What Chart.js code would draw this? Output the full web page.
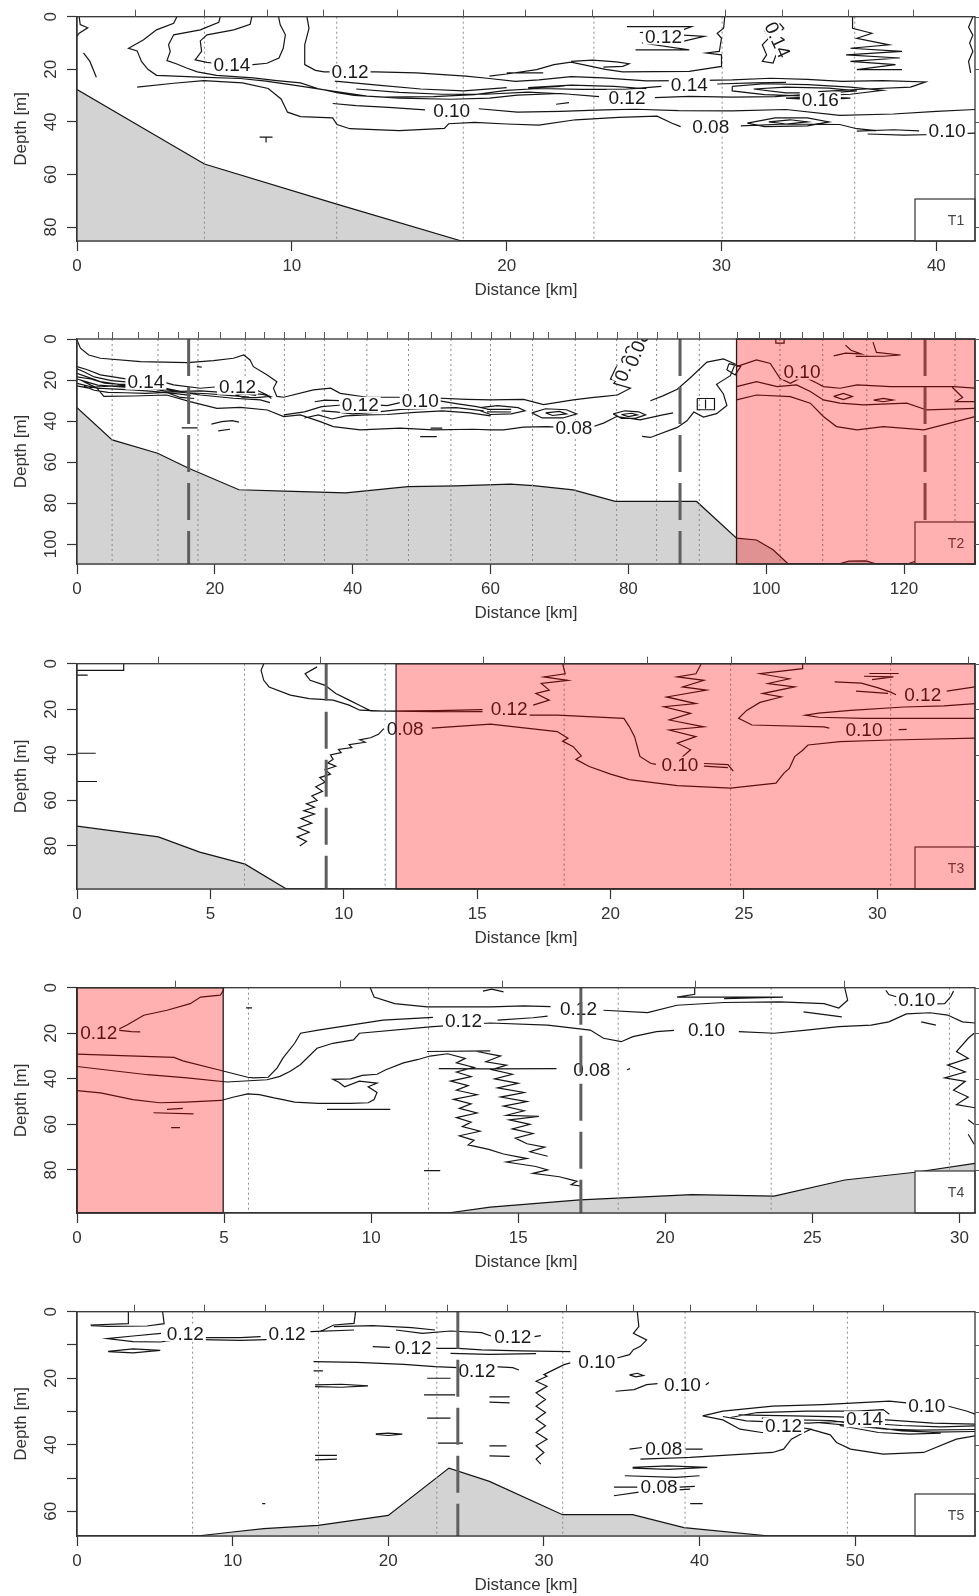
<!DOCTYPE html>
<html><head><meta charset="utf-8">
<script src="https://cdn.jsdelivr.net/npm/chart.js@4.4.1/dist/chart.umd.min.js"></script>
<style>
html,body{margin:0;padding:0;background:#fff;}
body{width:979px;height:1596px;position:relative;overflow:hidden;}
canvas{position:absolute;left:0;}
</style></head><body>
<canvas id="c1" width="979" height="301" style="top:0px"></canvas>
<canvas id="c2" width="979" height="300" style="top:324px"></canvas>
<canvas id="c3" width="979" height="302" style="top:647px"></canvas>
<canvas id="c4" width="979" height="302" style="top:971px"></canvas>
<canvas id="c5" width="979" height="301" style="top:1295px"></canvas>
<script>
// ---------------- T1 ----------------
const t1Range = [41.8, 85.3];
const t1XTicks = [0,10,20,30,40];
const t1YTicks = [0,20,40,60,80];
const t1YLabeled = [0,20,40,60,80];
const t1Stations = [5.93,12.09,17.98,24.06,30.03,36.2];
const t1TopTicks = [2.71,5.93,8.84,11.47,14.88,17.98,20.85,23.95,26.8,30.15,32.8,35.9,38.9];
const t1Dashed = [];
const t1Pink = null;
const t1Bathy = [[0,27.7],[5.93,56],[12.09,71.3],[17.9,85.3],[41.8,85.3]];
const t1Contours = [
 [[0.1,0],[0.15,3],[0.5,4.2],[0.1,6.3],[0,7.5]],
 [[0.3,13.8],[0.6,17],[0.9,23]],
 [[4.65,0],[4.5,2.5],[3.7,5],[3.1,8.8],[2.4,12],[2.8,13],[3,17],[3.3,20],[3.7,22.3],[5.7,23],[7.6,23.5],[8.8,24.5],[10.4,26.4],[11.9,28.3],[13.5,30.2],[15,31],[17.4,31.4],[19.2,31],[20.5,29.8],[22.5,29.2],[24.3,30.4]],
 [[26.9,30.8],[28.5,30.3],[30.5,30.6],[32.5,30.4],[34,29.5]],
 [[6.67,0],[6.6,2.1],[5.74,5],[4.5,6.9],[4.26,10.7],[4.34,13.2],[4.19,16.7],[4.65,18],[5.1,19.5],[5.6,21],[6.5,22.3],[8.2,23.3],[9.3,24.3],[10.4,25.2],[11.2,27.3],[12.1,28.9],[12.9,29.9],[14.3,30.6],[16.6,30.4],[18.5,29.6],[20,28],[21.5,27.3],[23.5,27.6],[25.5,27.6],[27.2,26.5]],
 [[29.8,25.6],[31.5,25.2],[33,25]],
 [[12,24.5],[14,26],[16,27.5],[18,28.2],[20,27]],
 [[13,27.5],[15,28.8],[17,29.5],[19,29.5],[21,28.7],[23,29.5]],
 [[21,27],[23,26],[25,26.5],[26.5,27.4]],
 [[8.14,0],[8.06,2.9],[7.3,5],[6.05,6.9],[5.74,9.2],[5.8,13.2],[5.5,16.4],[6.05,17.4],[6.3,17.6],[8.2,18.2],[8.84,17.7],[9.4,15.7],[9.6,12],[9.7,6.9],[9.46,3.1],[9.38,0]],
 [[10.7,0],[10.8,4.4],[10.6,10.7],[10.6,18.2],[11.1,20.4],[11.5,21],[13.9,21],[15.8,21.4],[18.1,22.6],[19.2,23.5],[20.4,24.6],[21.5,24],[23,22.8],[24.5,23.3],[26.5,24.4],[28.5,24.3],[30.5,24],[32.3,23.4],[34,23.8],[35.6,24.6],[37.5,24.3],[39.5,24.8],[38.8,26.8],[36.5,27.6],[34.5,28.5]],
 [[30.15,0],[30.1,4.4],[29.8,6.3],[30,8.2],[29.9,13.2],[29.3,13.8],[30,14.5],[30,18.9],[28.5,20.8],[25.4,21],[24.6,20],[23,17.3],[22.2,18.2],[21.4,20.1],[20,21.8],[19.2,22.6]],
 [[23,17],[24,16.5],[25.1,17.2],[25.7,17.9],[25.4,18.9],[24.5,19.2]],
 [[20,21.4],[21.7,21.4]],[[21,27.2],[22.7,26.4]],[[22.3,33.3],[22.9,32.7]],
 [[2.8,26.8],[4.5,25.3],[5.9,24.3],[7.7,25.2],[8.9,27.3],[9.5,31.3],[9.8,36.3],[10.4,38],[11.9,38.5],[12.1,41],[12.7,42.6],[15,43.3],[17.1,42.5],[17.3,40.7],[18.5,40.2],[20,40.8],[21.5,41.2],[23.2,39.2],[25.2,38.3],[27,37.8],[27.7,40.5],[28.1,41.8]],
 [[30.9,41.5],[33,40.8],[35.5,41],[36.3,42.6],[37.2,43.3]],
 [[11.9,33],[13,33.8],[14.5,34.5],[16.2,35.4]],
 [[18.7,35],[20.5,36.3],[22.5,36],[24.5,35.4],[26,35.2],[28,35.7],[30.5,35.8],[33,35.3],[35.5,37.5],[38,37],[40,36],[41.8,35.3]],
 [[36.3,43.5],[38,43],[39.2,43.4]],
 [[36.8,44.6],[38.5,45],[40,44.8],[41.8,44.3]],
 [[25.6,3.8],[28.6,3.8],[28.2,5],[26.2,6],[29.2,7.5],[28.3,9.2],[26.3,10],[28.5,12.6],[26,12.6]],
 [[32.3,3.1],[32,5],[32.2,8.2],[31.9,10.7],[32.1,14.5],[31.9,17],[32.4,17.6],[32.6,13.2],[32.4,8.2],[32.9,4.4],[32.7,2.5]],
 [[36.1,0],[36.1,4.4],[37,6.3],[36.3,8.2],[37.8,10.7],[36,12],[38.4,13.2],[35.8,14.5],[38.3,15.7],[36,17],[38.1,18.2],[36.3,20.1],[38.4,20.1]],
 [[41.7,0],[41.5,4],[41.7,7],[41.55,10],[41.7,13.2],[41.5,17],[41.6,21.4]],
 [[30.5,26.5],[32,25.5],[34,25.8],[36,26.8],[37.5,28],[36,29.5],[34,30.2],[32,29.6],[30.5,28.2],[30.5,26.5]],
 [[31.5,27.5],[33,26.8],[35,27.2],[36.3,28.2],[35,29],[33,29],[31.5,27.5]],
 [[33,31],[34.5,30.5],[36,31],[34.5,31.6],[33,31]],
 [[31.2,40.5],[32.5,38.5],[34,38.5],[35,40],[34,41.5],[32,41.8],[31.2,40.5]],
 [[32.2,40],[33.2,39.2],[34,40],[33,40.8],[32.2,40]],
 [[8.5,45.8],[9.1,45.8]],[[8.8,45.8],[8.8,47.8]]
];
const t1Labels = [["0.14",7.21,18.2,0],["0.12",12.71,21.1,0],["0.10",17.44,35.6,0],["0.14",28.5,25.8,0],["0.12",25.6,30.8,0],["0.16",34.6,31.7,0],["0.08",29.5,41.9,0],["0.10",40.5,43.4,0],["0.12",27.3,7.5,0],["0.14",32.6,8.8,65]];

// ---------------- T2 ----------------
const t2Range = [130.3, 109.7];
const t2XTicks = [0,20,40,60,80,100,120];
const t2YTicks = [0,20,40,60,80,100];
const t2YLabeled = [0,20,40,60,80,100];
const t2Stations = [5.1,11.75,17.55,24.4,30.1,35.9,42.06,48.1,54.25,60,66.1,72.3,78.3,84.1,90.3,102,108.2,114.6,127.4];
const t2TopTicks = [3.1,5.1,8.9,11.75,14.7,17.55,20.8,24.4,27.1,30.1,33.1,35.9,39.2,42.1,45,48.1,51.3,54.25,57.1,60,62.9,66.1,68.4,72.3,75.4,78.3,81.2,84.1,87,90.3,95.7,98.9,102,105.2,108.2,111.2,114.6,117.5,121,124.3,127.4];
const t2Dashed = [16.2,87.5,123.05];
const t2Pink = [95.7,130.3];
const t2Bathy = [[0,33.5],[5.1,49.2],[11.7,55.7],[16.2,63],[23.5,73.5],[30.1,74.2],[39,75],[48,72],[55,71.6],[62.9,70.8],[66.2,71.5],[72,73.6],[78.1,79.2],[89.9,79.2],[95.7,97.1],[98.6,98],[101,102.8],[103.2,109.7],[110.5,109.7],[112,108.3],[114.5,108.2],[116,109.7],[120.5,109.7],[121.5,108.5],[122.2,109.7],[130.3,109.7]];
const t2Contours = [
 [[0,0.5],[0.5,4.5],[1.7,7.8],[3.4,9.4],[9.2,11],[16,11.5],[19.8,10.5],[22.7,9.4],[24.2,7.8],[25.1,10.2],[25.6,13.5],[27.6,17.5],[29,20.8],[28.5,24],[29,28],[30,28.4],[34.3,24.8],[36.8,24],[38.2,26.5],[42.1,28.4],[49.3,28.4],[56.6,29.4],[60,29.7],[64.8,29.4],[67.7,32],[72,29.7],[75,28.5],[76.5,28],[78.4,27.3]],
 [[17.4,13.5],[18.1,13.7]],
 [[0,13.5],[1.5,15],[3.4,17.5],[7.3,19.6]],
 [[12.6,21],[14,22.4],[17.9,24],[20,23.4]],
 [[25.8,24.5],[27.6,27.3],[28.2,29]],
 [[0,16.7],[3.4,20.8],[8.2,23.2],[13,24.8],[17.9,27.3],[22.7,28.9],[26.6,29.7],[28,31]],
 [[0,18.5],[2,19.5],[4,21.5],[6,22],[9,22.3],[12,23.5],[15,25.5],[18,25.3],[21,26],[24,26.5],[26,27.5]],
 [[0.5,20],[2,22.5],[3,24],[5,24.3],[8,24.8],[11,25.5],[14,26.5],[16.5,27.5]],
 [[0,14.5],[1,16],[2.5,18.5],[5,20.3],[7.5,21]],
 [[0,19.5],[1.5,21],[3,22.5],[5,23],[7,23.5],[9,24],[11,24.3],[13,25.6],[16,26.2],[19,26.7],[22,27.5],[25,28.3]],
 [[1,23],[2.5,25],[4.5,26],[7,26.2],[10,26.5],[13,26],[15,28.5],[17,29]],
 [[0,22.8],[1.5,23.8],[3.5,23.2],[6,22.8],[9,23.5],[12,24.2]],
 [[23,27.2],[25,26.5],[27,27],[28,28],[26,28.6],[24,28.3],[23,27.2]],
 [[0,21.6],[2.9,24],[3.9,28],[8.2,27.8],[13,27.3],[16.4,30.5],[20.3,33.8],[23.7,33.3],[27.6,34.6],[30,37.8],[32.4,37],[35.3,40.3],[37.2,42.7],[41.1,44.3],[46.9,43.5],[51.7,44.3],[57.5,44],[60,44.3],[61.9,44.3],[64.8,43],[68.2,42.7],[69.6,43]],
 [[74.6,43],[76.4,41],[78.3,37.8],[81.7,39.4],[85,37],[86.5,36]],
 [[15.2,43.3],[17.5,43.3]],[[19.5,41.5],[21,40.3],[22.5,39.8],[23.5,40.5]],[[20.5,44.8],[22.2,44]],
 [[30,37],[33,35.5],[35.5,33],[38,32.3],[38.8,32.1]],
 [[43.4,32.1],[45,32.5],[46.9,31]],
 [[52.6,30.2],[55,31.5],[58,33],[60,34.5]],
 [[33,38.5],[35,37],[37,39],[39,37.5],[42,37],[45,36.8],[49,35.8],[53,35],[57,36],[60,37.5]],
 [[34.5,30.6],[36,29.8],[38,30]],
 [[35.5,35],[37.5,35.5],[40,36.5],[43,35.8],[47,34.3],[51,33.8],[55,33.5],[59,35]],
 [[51.3,43.5],[53,43.5]],[[49.8,47.6],[52.2,47.6]],
 [[82.2,2.9],[81.3,8.6],[79.3,15.1],[77.9,21.6],[80.3,24],[78.4,27.3]],
 [[80.5,4.5],[79.5,9.5],[78.2,14],[77.4,19.5],[78.6,20.5]],
 [[83.2,30.1],[85.1,27.6],[87.1,24.5],[89,18.9],[91.4,11.3],[93.8,9.7],[95.5,12.2],[94.8,17.9],[92.8,22.1],[93.8,26.8],[94.3,32.4],[92.8,36.4],[90.9,38.1],[89.5,35.6],[88.5,39.9],[87.1,43.1],[83.2,48],[82,47.5]],
 [[77.8,36.5],[79.5,35],[81.5,35.5],[82.5,37],[81,38.7],[79,38.7],[77.8,36.5]],
 [[79,36.8],[80.5,36.2],[81.3,37],[80,37.8],[79,36.8]],
 [[58.5,33.5],[61,32.5],[64,33.5],[65,35],[63,36.5],[60,36.8],[58.5,35]],
 [[59.5,34.3],[63,34.3]],[[59.5,35.5],[63,35.6]],
 [[66,36],[68,34],[71,34.5],[72.5,36.5],[70.5,38.5],[67.5,38.5],[66,36]],
 [[68,36],[70,35.3],[71,36.5],[69,37.3],[68,36]],
 [[90,29],[90,34.5],[92.5,34.5],[92.5,29],[90,29]],[[91.2,29.5],[91.2,34]],
 [[94.6,12],[96.3,13.5],[95.5,17.5],[94.3,15],[94.6,12]],
 [[101.4,0],[101.4,2],[102.6,2],[102.6,0]],
 [[109.8,8.2],[111.5,6.9],[113.8,7.3],[112.3,5.5],[111.5,3]],
 [[115.5,1.5],[116,6.5],[119.5,7.8],[117,8.4],[113,8.5]],
 [[95.7,13.5],[98.6,10.2],[100.6,11.9],[102,19.2],[103.5,21.6],[105.4,18.3],[107.4,21.6],[108.3,23.2],[110.7,24],[113.2,22.4],[118,23.2],[122.9,23.2],[127.2,23.2],[130.3,24]],
 [[95.7,23.2],[98.6,20.8],[101.6,23.2],[104.4,22.4],[106.4,25.6],[108.3,29.7],[110.7,31.3],[114.1,32.1],[120.4,31.3],[123.3,34.6],[130.3,33.8]],
 [[95.7,29.7],[98.6,27.3],[103.5,28.1],[106.4,31.3],[108.3,37.8],[110.2,42.7],[113.2,44.3],[117,42.7],[122.9,44.3],[130.3,37.8]],
 [[109.8,28],[111.2,26.5],[112.5,28],[111.2,29.5],[109.8,28]],
 [[115.6,29.8],[117,29],[118.4,29.8],[117,30.6],[115.6,29.8]],
 [[127,23.5],[128.5,28.5],[127.5,30.5],[130.3,30.5]]
];
const t2Labels = [["0.14",10,20.8,0],["0.12",23.3,23.2,0],["0.12",41.1,32.1,0],["0.10",49.8,30.2,0],["0.08",72.1,43.5,0],["0.08",79.8,11.9,-68],["0.08",81.3,4.8,-68],["0.10",105.2,15.9,0]];

// ---------------- T3 ----------------
const t3Range = [33.66, 98.9];
const t3XTicks = [0,5,10,15,20,25,30];
const t3YTicks = [0,20,40,60,80];
const t3YLabeled = [0,20,40,60,80];
const t3Stations = [6.28,11.55,18.26,24.5,30.5];
const t3TopTicks = [3.05,9.1,15.2,18.26,21.35,24.5,27.3,30.5,33.4];
const t3Dashed = [9.34];
const t3Pink = [11.96,33.66];
const t3Bathy = [[0,71.3],[3.05,76],[4.6,82.7],[6.3,88],[7.85,98.9]];
const t3Contours = [
 [[0,2.9],[1.75,2.9],[1.75,0]],[[0,5],[0.4,5]],[[0,39.3],[0.7,39.3]],[[0,51.7],[0.75,51.7]],
 [[7,0],[6.9,2.9],[7,7.3],[7.2,10.2],[8,13.8],[8.7,15.3],[9.6,16],[10.2,18.2],[10.6,20.4],[11.5,20.8],[13.5,20.6],[15.2,20.2]],
 [[9,1.4],[8.55,4.4],[8.74,7.3],[9.3,9.5],[9.7,13.1],[10.2,16],[10.7,18.9],[11,20.7],[13.4,21.1],[15.2,21]],
 [[16.9,22.6],[18,22.6],[20.5,24],[20.7,27.6],[20.9,32],[21,36.4],[21.1,40.7],[21.5,43.7],[21.7,44.2]],
 [[23.5,43.8],[24.4,44.3],[24.6,47.2]],[[23.5,45],[24.4,45.6]],
 [[11.5,28.5],[11.3,31],[11,32.5],[10.6,33.4],[10.8,34.5],[10.2,35.5],[10.3,36.8],[9.8,37.6],[9.9,39],[9.5,40],[9.6,42],[9.4,43.5],[9.7,45],[9.3,46.5],[9.5,48.5],[9.1,50],[9.3,52],[8.95,54],[9.2,56],[8.8,58],[9,60],[8.6,61.5],[8.9,63],[8.5,64.5],[8.9,66],[8.4,68],[8.8,70],[8.3,72],[8.7,74],[8.25,76],[8.6,78],[8.35,80]],
 [[13.3,28.3],[15.5,26.5],[18,29.8],[18.4,32.7],[18.2,34],[18.6,36.4],[18.9,40.5],[18.7,42],[19.2,45.1],[20,48.5],[20.7,50.9],[22.5,53.5],[24.5,54.6],[26.2,52.4],[26.5,48],[26.7,46],[26.9,40.8],[27.2,38],[27.4,35.7],[28.6,34.2],[30.5,33.5],[33.66,32.7]],
 [[27.2,0],[27.2,2.2],[25.6,4.4],[26.7,6.6],[25.9,8.7],[26.9,10.2],[25.7,13.1],[26.4,14.6],[25.6,17],[25.1,20.5],[24.8,24],[25.3,26.9],[28,27.7],[28.2,28.3]],
 [[30.8,28.9],[31.1,28.8]],
 [[33.66,17.5],[32.5,18.5],[31,19],[29,20.5],[27.8,21.7],[27.3,22.6],[27.8,23.5],[29.5,24],[31.5,24],[33.66,24]],
 [[28.4,8],[29.4,8.5],[30,10.5],[30.5,12.5],[30.7,13.6]],
 [[32.6,12],[33.66,10.2]],
 [[29.7,4.3],[30.8,4.3]],[[29.5,5.5],[30.6,5.8],[29.8,7]],[[29.2,12],[30.4,13]],
 [[18.2,0],[18.3,4.4],[17.5,5.8],[18.4,7.3],[17.4,8.7],[17.7,11.6],[17.2,13.1],[17.7,16],[17.1,18.2]],
 [[23.4,0],[23.2,4.4],[22.5,5.8],[23.5,7.3],[22.7,10.2],[23.6,11.6],[22.1,14.6],[23.2,17.5],[22,18.9],[23,21.8],[22.2,24.7],[23.5,27.7],[22.2,29.1],[23.2,32],[22.5,34.9],[23,37.8],[22.7,40.8]]
];
const t3Labels = [["0.08",12.3,28.4,0],["0.12",16.2,19.7,0],["0.10",22.6,44.4,0],["0.12",31.7,13.8,0],["0.10",29.5,29.1,0]];

// ---------------- T4 ----------------
const t4Range = [30.53, 98.9];
const t4XTicks = [0,5,10,15,20,25,30];
const t4YTicks = [0,20,40,60,80];
const t4YLabeled = [0,20,40,60,80];
const t4Stations = [5.83,11.95,18.4,23.6,29.66];
const t4TopTicks = [3.34,8.95,14.45,21,26.06];
const t4Dashed = [17.13];
const t4Pink = [0,4.97];
const t4Bathy = [[12.6,98.9],[14.05,96.3],[17.1,93.1],[20.9,90.8],[23.7,91.5],[26.1,84.4],[28.5,81],[30.53,77.1]];
const t4Contours = [
 [[4.98,0],[4.98,1.1],[4.87,3.3],[4.2,4.1],[3.85,7],[3.06,9.9],[2.27,12.1],[1.7,16.4],[1.36,18.6]],
 [[1.3,18.5],[1.85,19.3],[2.15,19.4]],
 [[0,29.2],[3.3,30.6],[3.6,32.1],[4.8,36],[5.8,39.3],[6,39.6],[6.5,39.3],[6.8,35.3],[7,30.9],[7.4,24.4],[7.6,20],[8.2,18.6],[9.3,16.4],[10.4,14.2],[12.1,13]],
 [[14.3,14.2],[15.5,13.2],[16,12.5]],
 [[9.97,0],[10.1,4.1],[10.8,7],[11.9,8.4],[14.05,8.4],[15.2,8],[16.1,8.3]],
 [[17.9,9.9],[19.4,10.9],[20.4,7.7],[22,6.5],[23.9,6.2],[25.4,7],[25.9,8.9],[26.2,5.5],[26.1,0]],
 [[21,0],[21,2.9],[20.4,4.1],[24,4.1],[22,4.8]],
 [[13.8,1.5],[14.1,0.6],[14.5,1.8]],
 [[0,34.6],[2.4,38.2],[3.74,39.6],[5.1,41.4],[6.46,40.4],[6.9,38.9],[7.25,36.7],[7.59,33.8],[8.16,26.6],[8.7,24.4],[9.4,22.9],[9.6,20],[12.1,17.1],[14.05,15.5],[16,16.4],[17.45,18.6],[17.9,22.2],[18.5,23.7],[18.9,21.5],[19.7,19.3],[20.3,18.7]],
 [[22.5,19.3],[23.7,20],[24.8,18.6],[25.9,17.1],[27,16.4],[27.6,15],[28.2,11.5],[29,11],[29.6,12],[30.1,15],[30.53,15.5]],
 [[0,45.2],[0.8,46.2],[1.9,49.1],[2.8,50.5],[3.7,50.2],[4.9,49.5],[5.3,48.1],[5.8,46.6],[6.2,46.9],[6.7,48.4],[7,49.1],[7.4,50.2],[8.2,50.8],[9.3,50.8],[9.9,50.5],[10.1,49.1],[10.2,46],[9.9,43.5],[10.2,41.9],[9.6,41],[9.1,43.5],[8.9,41.5],[8.7,40.2],[9.3,40],[9.7,38.5],[10.2,38],[10.5,36],[11.1,33],[11.6,31.5],[12,30],[12.6,29]],
 [[8.5,53.4],[10.65,53.4]],[[2.6,54.9],[3.96,55.4]],[[3.2,61.4],[3.5,61.4]],[[3.06,53.4],[3.6,53]],
 [[11.9,28],[14.05,27.7]],
 [[12.3,35.5],[14,35.6],[16.3,35.5]],[[18.7,36],[18.8,35.5]],
 [[12.6,29],[13.2,31],[12.9,33],[13.5,35],[12.9,37],[13.4,39],[12.7,41],[13.3,43],[12.9,45],[13.6,47],[12.8,49],[13.4,51],[13,53],[13.6,55],[12.9,57],[13.4,59],[13.1,61],[13.7,63],[13,65],[13.5,67],[13.3,69],[14,71],[14.5,73],[15.3,75],[14.6,76.5],[15.6,78.5],[16,80],[15.5,81.5],[16.4,83],[17,85],[16.8,86.5],[17.1,87]],
 [[13.6,28],[14.4,30],[13.9,32.5],[14.6,34],[14.1,36],[14.8,38],[14.2,40],[15,42],[14.3,44],[15.2,46],[14.4,48],[15.3,50],[14.5,52],[15.2,54],[14.6,56],[15.7,56.5],[14.7,58],[15.4,60],[14.8,62],[15.5,64],[14.9,66],[15.3,68.5],[15.9,70],[15.4,72],[16,74]],
 [[11.8,80.3],[12.35,80.3]],[[5.75,8.9],[5.95,8.9]],
 [[30.5,20],[30.3,22.2],[29.9,28],[30.3,31],[29.6,34],[30.2,37],[29.5,39.6],[30.2,41.1],[29.8,45],[30.3,48],[29.9,51.3],[30.53,52.7]],
 [[30.3,58],[30.5,60]],[[30.3,64.3],[30.5,68.7]],
 [[27.5,1.2],[27.6,3],[28,4.5]],[[27.8,7.5],[29.5,7],[29.7,4],[29.8,1.5]],
 [[24.7,10.6],[26,12.8]],[[28.7,15],[29.2,16.4]]
];
const t4Labels = [["0.12",0.74,20,0],["0.12",13.14,14.7,0],["0.12",17.05,9.1,0],["0.10",21.4,18.6,0],["0.08",17.5,36,0],["0.10",28.55,5.5,0]];

// ---------------- T5 ----------------
const t5Range = [57.7, 67.4];
const t5XTicks = [0,10,20,30,40,50];
const t5YTicks = [0,10,20,30,40,50,60];
const t5YLabeled = [0,20,40,60];
const t5Stations = [7.43,15.52,23.12,31.21,39.07,49.5];
const t5TopTicks = [3.64,8.18,12.1,15.8,19.8,23.8,27.6,31.4,35.75,39.4,43.6,47.3,51.8];
const t5Dashed = [24.47];
const t5Pink = null;
const t5Bathy = [[7.7,67.4],[10,66.2],[12,65.2],[15.5,64.2],[20,61.2],[23.9,47],[26.5,51],[31.2,61],[35.7,61],[39,64.9],[44.5,67.4]];
const t5Contours = [
 [[0.86,4],[3.3,3.6],[3.3,0]],
 [[5.5,0],[5.6,3.6],[4.5,4.3],[2,4.4],[0.9,4.2]],
 [[5.4,6.5],[3.6,7.3],[1.93,8.1],[3.6,9],[5.35,9.1],[6,8.7]],
 [[8,7.8],[10.5,7.8],[11.8,7.5]],[[8,8.4],[10.5,8.6],[12.2,8.4]],
 [[15,6],[17.8,5.5]],
 [[2,11.9],[3.6,11.2],[5.35,11.6],[3.6,12.4],[2,12]],
 [[15.6,6],[16.5,4],[17.8,3.5],[17.9,0]],
 [[16.5,4.5],[19,4.2],[21.5,4.8],[23,5.5]],
 [[20.5,5.5],[22.2,6.5],[24,5.8],[26,6.3],[26.6,7.3]],[[29.4,7.5],[29.8,7.2]],
 [[19,10.5],[20.1,10.7]],[[23.1,11],[24.5,11],[26,11.5],[28.5,11.8],[31.7,12]],
 [[24,12.5],[26.5,12.8],[29.5,12.6]],
 [[15.2,15],[18,15.2],[21,15.8],[23,16.5],[24.5,16.8]],
 [[15.3,22],[17,21.8],[18.7,22.3],[17,22.7],[15.3,22.5]],
 [[15.2,17.8],[15.8,17.8]],
 [[19.2,36.7],[20,36.5],[20.9,36.8],[20,37.2],[19.2,36.9]],
 [[15.3,43.2],[16.7,43.2]],[[15.3,44.5],[16.7,44.3]],
 [[22.5,20],[24,20]],[[22.3,25],[24.3,25]],[[22.5,32],[24,32]],[[23.2,39.5],[24.8,39.5]],
 [[11.9,57.7],[12.1,57.7]],
 [[26.5,25.6],[27.8,25.6]],[[26.5,27.2],[27.8,27.4]],[[26.5,40.3],[27.6,40.3]],[[26.5,43.3],[27.8,43.5]],
 [[26.5,16.4],[28,16.8],[28.4,17.5]],
 [[36,0],[36.1,4.5],[35.75,6.5],[36.6,8.5],[36.2,10.4],[35.75,11.4],[35.5,12.9],[34.7,13.9]],
 [[31.7,15.4],[31.3,15.9],[30,18.9],[30.2,19.4],[29.5,20.9],[30.2,22.4],[29.5,24.4],[30.1,26.4],[29.5,28.4],[30.1,30.3],[29.5,32.3],[30.1,34.3],[29.5,36.3],[30.2,38.3],[29.5,40.3],[30,42.3],[29.5,44.3],[29.8,45.8]],
 [[34.6,23.9],[35.8,23.4],[36.6,21.9],[37.3,21.6]],[[40.4,22],[40.6,21.3]],
 [[35.5,19],[36,18.5],[36.4,19.2],[35.9,19.6],[35.5,19]],
 [[35.5,41.3],[36.3,40.8]],[[39.1,41.3],[40.2,41.3]],
 [[36.2,44.3],[39.4,43.8],[44.7,42.3],[45.4,41.3],[45.9,38.3],[46.7,36.3],[47.2,35.2]],
 [[35.7,46.8],[38,46.3],[40.5,46.8],[38,47.4],[35.7,47]],
 [[35.2,49.3],[38.5,49.8],[40,49.3]],
 [[34.5,52.7],[36,52.7]],[[38.7,52.7],[39.7,52.5]],
 [[34.5,55.3],[36,54.3],[39.4,53.3]],
 [[39.4,57.7],[40.2,57.7]],
 [[40.2,31.3],[41.5,29.9],[44.7,28.4],[47.9,27.9],[52.2,26.9],[53.3,27.4]],[[56,28.4],[57.2,29.9],[57.7,30.8]],
 [[40.2,31.3],[41.5,32.5],[42.6,35.3],[44,36.3],[45.8,36.3],[46.5,34.8],[47.1,35.3],[48.4,37],[48.8,39.3],[49.7,41.3],[51.8,42.8],[54.4,42.3],[56.5,38.3],[57.7,37.3]],
 [[42,31.8],[43.7,30.3],[46.9,29.9],[50.1,29.9],[51.8,29.4],[52.2,30.8]],
 [[41.5,31.5],[43,32.8],[45,33.2],[47,33.5],[49,33],[51,33.6],[53,34.2],[55.5,34.6],[57.7,34.3]],
 [[42.5,31],[46,31.3],[49,31.6],[52,32.5],[55,33.5],[57.7,33.8]],
 [[47.5,33.3],[50,34.3],[52,35.3],[54,35.6],[57.7,35.4]],
 [[44,32],[46,32.5],[48.5,32.7],[51,34.6],[53,35.8],[55,36.2],[57.7,36]],
 [[49,34.2],[51.5,36.3],[53.5,36.8],[55.5,36.5]]
];
const t5Labels = [["0.12",6.96,6.5,0],["0.12",13.5,6.5,0],["0.12",21.6,10.9,0],["0.12",25.7,17.6,0],["0.12",28.0,7.5,0],["0.10",33.4,14.9,0],["0.10",38.9,21.9,0],["0.08",37.7,41.3,0],["0.08",37.4,52.7,0],["0.12",45.4,34.3,0],["0.14",50.6,32.3,0],["0.10",54.6,28.4,0]];

// ---------------- drawing ----------------
const FONT = '"Liberation Sans", Arial, Helvetica, sans-serif';
Chart.defaults.font.family = FONT;

function flat(lines){
  const out = [];
  lines.forEach((ln,i)=>{
    if(i) out.push({x: ln[0][0], y: null});
    ln.forEach(p=>out.push({x:p[0], y:p[1]}));
  });
  return out;
}

function panel(id, name, range, xTicks, yTicks, yLabeled, stations, topTicks, dashed, pink, bathy, contours, labels){
  const xMax = range[0], yMax = range[1];
  const vlines = xs => xs.map(x=>[[x,0],[x,yMax]]);
  const widest = Math.max(...yLabeled.map(v=>String(v).length));
  const yPad = widest >= 3 ? 1.8 : 6.5;
  const base = {pointRadius:0, pointHoverRadius:0, tension:0, spanGaps:false, fill:false};
  const datasets = [
    Object.assign({}, base, {label:'dashed', data: flat(vlines(dashed)), borderColor:'#5f5f5f', borderWidth:3, borderDash:[37,11], order:1}),
    Object.assign({}, base, {label:'contours', data: flat(contours), borderColor:'#151515', borderWidth:1.2, order:2}),
    Object.assign({}, base, {label:'stations', data: flat(vlines(stations)), borderColor:'#8a8a8a', borderWidth:1, borderDash:[2,3], order:3}),
    Object.assign({}, base, {label:'bathymetry', data: bathy.map(p=>({x:p[0],y:p[1]})), borderColor:'#151515', borderWidth:1.2, backgroundColor:'#d3d3d3', fill:{value:yMax}, order:4})
  ];
  const deco = {
    id: 'deco_'+id,
    afterDatasetDraw(chart, args){
      if (chart.data.datasets[args.index].label !== 'contours') return;
      const ctx = chart.ctx, xs = chart.scales.x, ys = chart.scales.y, a = chart.chartArea;
      ctx.save();
      ctx.beginPath(); ctx.rect(a.left, a.top, a.right-a.left, a.bottom-a.top); ctx.clip();
      ctx.font = '19px ' + FONT; ctx.textAlign = 'center'; ctx.textBaseline = 'middle';
      labels.forEach(([t,x,y,ang])=>{
        const px = xs.getPixelForValue(x), py = ys.getPixelForValue(y);
        ctx.save(); ctx.translate(px,py); ctx.rotate(ang*Math.PI/180);
        const w = ctx.measureText(t).width;
        ctx.fillStyle = '#fff'; ctx.fillRect(-w/2-2, -8, w+4, 16);
        ctx.fillStyle = '#1a1a1a'; ctx.fillText(t, 0, 1);
        ctx.restore();
      });
      ctx.restore();
    },
    afterDatasetsDraw(chart){
      const ctx = chart.ctx, xs = chart.scales.x, ys = chart.scales.y, a = chart.chartArea;
      ctx.save();
      ctx.fillStyle = '#fff'; ctx.fillRect(a.right-60, a.bottom-42, 60, 42);
      ctx.strokeStyle = '#333'; ctx.lineWidth = 1.2; ctx.strokeRect(a.right-60, a.bottom-42, 60, 42);
      ctx.fillStyle = '#444'; ctx.font = '14px ' + FONT; ctx.textAlign = 'center'; ctx.textBaseline = 'middle';
      ctx.fillText(name, a.right-19, a.bottom-20);
      if (pink){
        const x0 = xs.getPixelForValue(pink[0]), x1 = xs.getPixelForValue(pink[1]);
        ctx.fillStyle = 'rgba(255,0,0,0.31)'; ctx.fillRect(x0, a.top, x1-x0, a.bottom-a.top);
        ctx.strokeStyle = '#2a1a1a'; ctx.lineWidth = 1.3; ctx.strokeRect(x0, a.top, x1-x0, a.bottom-a.top);
      }
      ctx.strokeStyle = '#333'; ctx.lineWidth = 1.3; ctx.strokeRect(a.left, a.top, a.right-a.left, a.bottom-a.top);
      ctx.strokeStyle = '#555'; ctx.lineWidth = 1;
      ctx.beginPath();
      topTicks.forEach(v=>{ const px = Math.round(xs.getPixelForValue(v))+0.5; ctx.moveTo(px, a.top); ctx.lineTo(px, a.top-7); });
      yTicks.forEach(v=>{ const py = Math.round(ys.getPixelForValue(v))+0.5; ctx.moveTo(a.right, py); ctx.lineTo(a.right+4, py); });
      ctx.stroke();
      ctx.restore();
    }
  };
  return new Chart(document.getElementById(id), {
    type: 'line',
    data: {datasets},
    options: {
      responsive:false, animation:false, devicePixelRatio:1,
      layout:{padding:{top:15,right:4,left:0,bottom:0}},
      plugins:{legend:{display:false}, tooltip:{enabled:false}},
      events: [],
      scales:{
        x:{type:'linear', position:'bottom', min:0, max:xMax,
          afterBuildTicks: s => { s.ticks = xTicks.map(v=>({value:v})); },
          afterFit: s => { s.height = 60; },
          ticks:{autoSkip:false, maxRotation:0, minRotation:0, padding:5.5, color:'#333', font:{size:17}},
          grid:{drawOnChartArea:false, drawTicks:true, tickLength:10, tickColor:'#333', tickWidth:1.2},
          border:{display:true, color:'#333', width:1.3},
          title:{display:true, text:'Distance [km]', color:'#333', font:{size:17}, padding:{top:0,bottom:0.8}}
        },
        y:{type:'linear', position:'left', reverse:true, min:0, max:yMax,
          afterBuildTicks: s => { s.ticks = yTicks.map(v=>({value:v})); },
          afterFit: s => { s.width = 77; },
          ticks:{autoSkip:false, minRotation:90, maxRotation:90, crossAlign:'center', padding:yPad, color:'#333', font:{size:17},
            callback: v => yLabeled.includes(v) ? String(v) : ''},
          grid:{drawOnChartArea:false, drawTicks:true, tickLength:10, tickColor:'#333', tickWidth:1.2},
          border:{display:true, color:'#333', width:1.3},
          title:{display:true, text:'Depth [m]', color:'#333', font:{size:17}, padding:{top:11.6,bottom:0}}
        }
      }
    },
    plugins:[deco]
  });
}

panel('c1','T1',t1Range,t1XTicks,t1YTicks,t1YLabeled,t1Stations,t1TopTicks,t1Dashed,t1Pink,t1Bathy,t1Contours,t1Labels);
panel('c2','T2',t2Range,t2XTicks,t2YTicks,t2YLabeled,t2Stations,t2TopTicks,t2Dashed,t2Pink,t2Bathy,t2Contours,t2Labels);
panel('c3','T3',t3Range,t3XTicks,t3YTicks,t3YLabeled,t3Stations,t3TopTicks,t3Dashed,t3Pink,t3Bathy,t3Contours,t3Labels);
panel('c4','T4',t4Range,t4XTicks,t4YTicks,t4YLabeled,t4Stations,t4TopTicks,t4Dashed,t4Pink,t4Bathy,t4Contours,t4Labels);
panel('c5','T5',t5Range,t5XTicks,t5YTicks,t5YLabeled,t5Stations,t5TopTicks,t5Dashed,t5Pink,t5Bathy,t5Contours,t5Labels);
</script>
</body></html>
